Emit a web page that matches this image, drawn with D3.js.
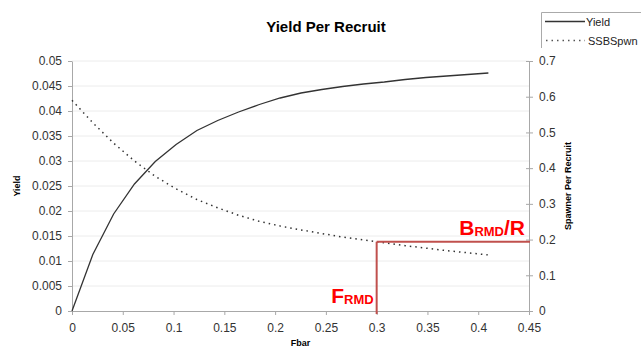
<!DOCTYPE html>
<html>
<head>
<meta charset="utf-8">
<script src="https://cdn.jsdelivr.net/npm/d3@7"></script>
<style>
  html, body { margin: 0; padding: 0; background: #fff; }
  svg { display: block; font-family: "Liberation Sans", Arial, sans-serif; }
</style>
</head>
<body>
<svg id="chart" width="641" height="347"></svg>
<script>
// Fishing mortality (Fbar) grid
const fbar = [0, 0.0205, 0.041, 0.0615, 0.082, 0.1025, 0.123, 0.1435, 0.164, 0.1845,
  0.205, 0.2255, 0.246, 0.2665, 0.287, 0.3075, 0.328, 0.3485, 0.369, 0.3895, 0.41];
// Yield per recruit (left axis)
const yieldPR = [0, 0.0113, 0.0194, 0.0254, 0.0299, 0.0333, 0.0361, 0.0381, 0.0398, 0.0413,
  0.0426, 0.0436, 0.0443, 0.0449, 0.0454, 0.0458, 0.0463, 0.0467, 0.0470, 0.0473, 0.0476];
// Spawning stock biomass per recruit (right axis)
const ssbSpwn = [0.590, 0.527, 0.470, 0.420, 0.377, 0.342, 0.312, 0.289, 0.268, 0.251,
  0.238, 0.227, 0.217, 0.207, 0.199, 0.191, 0.183, 0.176, 0.169, 0.163, 0.157];
// Reference point
const fRMD = 0.3;
const bRMDperR = 0.194;

const xTicks = [0, 0.05, 0.1, 0.15, 0.2, 0.25, 0.3, 0.35, 0.4, 0.45];
const yTicks = [0, 0.005, 0.01, 0.015, 0.02, 0.025, 0.03, 0.035, 0.04, 0.045, 0.05];
const y2Ticks = [0, 0.1, 0.2, 0.3, 0.4, 0.5, 0.6, 0.7];

const svg = d3.select("#chart");
const L = 72, R = 529, T = 61, B = 311;

const x = d3.scaleLinear().domain([0, 0.45]).range([L, R]);
const y = d3.scaleLinear().domain([0, 0.05]).range([B, T]);
const y2 = d3.scaleLinear().domain([0, 0.7]).range([B, T]);

// gridlines
svg.append("g").selectAll("line").data(yTicks.slice(1)).join("line")
  .attr("x1", L).attr("x2", R)
  .attr("y1", d => y(d)).attr("y2", d => y(d))
  .attr("stroke", "#ececec").attr("stroke-width", 1);

const fmt = d => d3.format("")(+d.toFixed(3));

function styleAxis(g) {
  g.select(".domain").attr("stroke", "#a8a8a8");
  g.selectAll(".tick line").attr("stroke", "#a8a8a8");
  g.selectAll(".tick text").attr("fill", "#333").attr("font-size", "12px")
    .attr("font-family", "Liberation Sans, Arial, sans-serif");
}

svg.append("g").attr("transform", `translate(0,${B})`)
  .call(d3.axisBottom(x).tickValues(xTicks).tickFormat(fmt).tickSize(4).tickSizeOuter(0).tickPadding(8))
  .call(styleAxis);

svg.append("g").attr("transform", `translate(${L},0)`)
  .call(d3.axisLeft(y).tickValues(yTicks).tickFormat(fmt).tickSize(4).tickSizeOuter(0).tickPadding(6))
  .call(styleAxis);

const gR = svg.append("g").attr("transform", `translate(${R},0)`)
  .call(d3.axisRight(y2).tickValues(y2Ticks).tickFormat(fmt).tickSize(4).tickSizeOuter(0).tickPadding(6))
  .call(styleAxis);
gR.selectAll(".tick line").attr("x1", -3);

// series
const pts = fbar.map((f, i) => ({ f, yv: yieldPR[i], s: ssbSpwn[i] }));

svg.append("path").datum(pts)
  .attr("fill", "none").attr("stroke", "#333").attr("stroke-width", 1.3)
  .attr("d", d3.line().x(d => x(d.f)).y(d => y(d.yv)));

svg.append("path").datum(pts)
  .attr("fill", "none").attr("stroke", "#333").attr("stroke-width", 1.5)
  .attr("stroke-dasharray", "1.5,4")
  .attr("d", d3.line().x(d => x(d.f)).y(d => y2(d.s)));

// reference lines
const red = "#c0504d";
svg.append("line")
  .attr("x1", x(fRMD)).attr("x2", x(fRMD))
  .attr("y1", y2(bRMDperR)).attr("y2", B + 3)
  .attr("stroke", red).attr("stroke-width", 2);
svg.append("line")
  .attr("x1", x(fRMD)).attr("x2", x(0.45) + 1)
  .attr("y1", y2(bRMDperR)).attr("y2", y2(bRMDperR))
  .attr("stroke", red).attr("stroke-width", 2);

// reference labels
const fLab = svg.append("text")
  .attr("x", x(fRMD) - 3).attr("y", 303)
  .attr("text-anchor", "end").attr("fill", "#ff0000").attr("font-weight", "bold")
  .attr("font-size", "21px");
fLab.append("tspan").text("F");
fLab.append("tspan").attr("font-size", "13px").attr("dy", 1).text("RMD");

const bLab = svg.append("text")
  .attr("x", R - 4).attr("y", 235)
  .attr("text-anchor", "end").attr("fill", "#ff0000").attr("font-weight", "bold")
  .attr("font-size", "21px");
bLab.append("tspan").text("B");
bLab.append("tspan").attr("font-size", "13px").attr("dy", 1).text("RMD");
bLab.append("tspan").attr("dy", -1).text("/R");

// titles
svg.append("text").attr("x", 326).attr("y", 32)
  .attr("text-anchor", "middle").attr("font-weight", "bold").attr("font-size", "15px")
  .attr("fill", "#000").text("Yield Per Recruit");

svg.append("text").attr("x", (L + R) / 2).attr("y", 346)
  .attr("text-anchor", "middle").attr("font-weight", "bold").attr("font-size", "9px")
  .attr("fill", "#000").text("Fbar");

svg.append("text")
  .attr("transform", `translate(20,${(T + B) / 2}) rotate(-90)`)
  .attr("text-anchor", "middle").attr("font-weight", "bold").attr("font-size", "9px")
  .attr("fill", "#000").text("Yield");

svg.append("text")
  .attr("transform", `translate(571,${(T + B) / 2}) rotate(-90)`)
  .attr("text-anchor", "middle").attr("font-weight", "bold").attr("font-size", "9px")
  .attr("fill", "#000").text("Spawner Per Recruit");

// legend
const lg = svg.append("g");
lg.append("path").attr("d", "M541.5,48V12.5H641").attr("fill", "none").attr("stroke", "#aaa");
lg.append("line").attr("x1", 545).attr("x2", 585).attr("y1", 21.5).attr("y2", 21.5)
  .attr("stroke", "#333").attr("stroke-width", 1.3);
lg.append("line").attr("x1", 546).attr("x2", 585).attr("y1", 40.5).attr("y2", 40.5)
  .attr("stroke", "#555").attr("stroke-width", 1.5).attr("stroke-dasharray", "1.5,4");
lg.append("text").attr("x", 586).attr("y", 25.5).attr("font-size", "11px").attr("fill", "#222").text("Yield");
lg.append("text").attr("x", 588).attr("y", 44.5).attr("font-size", "11px").attr("fill", "#222").text("SSBSpwn");
</script>
</body>
</html>
